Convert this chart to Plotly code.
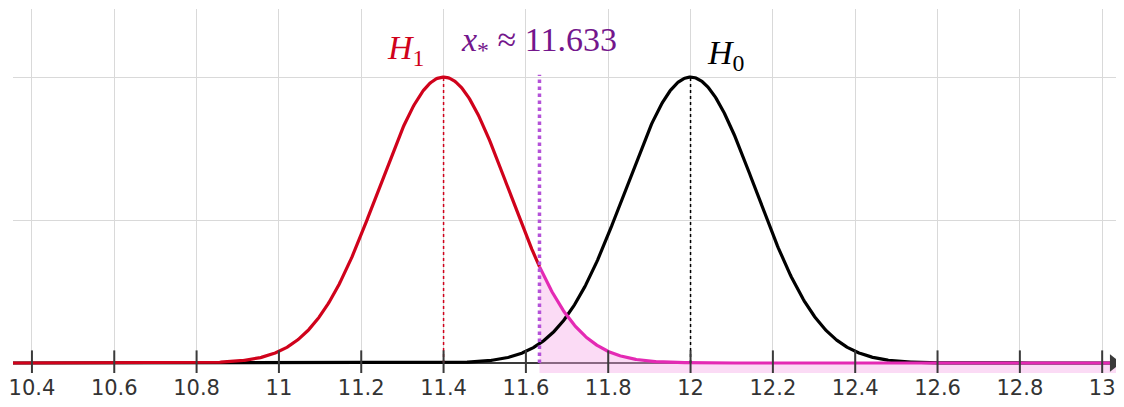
import numpy as np
import plotly.graph_objects as go

# two hypotheses: normal curves with a common spread
MU_H1 = 11.4
MU_H0 = 12.0
SIGMA = 0.158
X_STAR = 11.633

X_MIN, X_MAX = 10.354, 13.053
TICK_VALS = [10.4, 10.6, 10.8, 11, 11.2, 11.4, 11.6, 11.8, 12, 12.2, 12.4, 12.6, 12.8, 13]
TICK_TEXT = ["10.4", "10.6", "10.8", "11", "11.2", "11.4", "11.6", "11.8",
             "12", "12.2", "12.4", "12.6", "12.8", "13"]

RED = "#d0021b"
MAGENTA = "#e42ab4"
PURPLE_LINE = "#b452d8"
PURPLE_TEXT = "#74168c"
AXIS = "#3a3a3a"


def pdf(x, mu, s):
    return np.exp(-0.5 * ((x - mu) / s) ** 2) / (s * np.sqrt(2 * np.pi))


x = np.linspace(X_MIN, X_MAX, 1200)
peak = pdf(MU_H1, MU_H1, SIGMA)
y_lo, y_hi = -0.035 * peak, 1.238 * peak

h1 = pdf(x, MU_H1, SIGMA)
h0 = pdf(x, MU_H0, SIGMA)
left = x <= X_STAR
xr = np.concatenate([[X_STAR], x[~left]])
yr = pdf(xr, MU_H1, SIGMA)

fig = go.Figure()

# x axis line at y = 0
fig.add_trace(go.Scatter(x=[X_MIN, X_MAX - 0.01], y=[0, 0], mode="lines",
                         line=dict(color=AXIS, width=2), hoverinfo="skip"))

# shaded tail of H1 beyond x*
fig.add_trace(go.Scatter(
    x=np.concatenate([xr, xr[::-1]]),
    y=np.concatenate([yr, np.full(len(xr), y_lo)]),
    fill="toself", fillcolor="rgba(245,170,230,0.42)",
    line=dict(width=0), hoverinfo="skip"))

fig.add_trace(go.Scatter(x=x, y=h0, mode="lines", line=dict(color="black", width=3.2)))
fig.add_trace(go.Scatter(x=np.append(x[left], X_STAR),
                         y=np.append(h1[left], pdf(X_STAR, MU_H1, SIGMA)),
                         mode="lines", line=dict(color=RED, width=3.2)))
fig.add_trace(go.Scatter(x=xr, y=yr, mode="lines", line=dict(color=MAGENTA, width=3.2)))

# mean markers
fig.add_trace(go.Scatter(x=[MU_H1, MU_H1], y=[0, peak], mode="lines",
                         line=dict(color=RED, width=1.5, dash="dot")))
fig.add_trace(go.Scatter(x=[MU_H0, MU_H0], y=[0, peak], mode="lines",
                         line=dict(color="black", width=1.5, dash="dot")))
# critical value
fig.add_trace(go.Scatter(x=[X_STAR, X_STAR], y=[0, 1.008 * peak], mode="lines",
                         line=dict(color=PURPLE_LINE, width=3.5, dash="dot")))

# tick marks crossing the axis, and the arrow head
fig.add_trace(go.Scatter(x=TICK_VALS, y=[0] * len(TICK_VALS), mode="markers",
                         marker=dict(symbol="line-ns-open", size=18, color=AXIS,
                                     line=dict(color=AXIS, width=2))))
fig.add_trace(go.Scatter(x=[X_MAX - 0.025], y=[0], mode="markers",
                         marker=dict(symbol="triangle-right", size=15, color=AXIS)))

serif = "Liberation Serif, DejaVu Serif, serif"
fig.add_annotation(x=11.307, y=1.094 * peak, text="<i>H</i><sub>1</sub>", showarrow=False,
                   font=dict(family=serif, size=34, color=RED))
fig.add_annotation(x=12.084, y=1.077 * peak, text="<i>H</i><sub>0</sub>", showarrow=False,
                   font=dict(family=serif, size=34, color="black"))
fig.add_annotation(x=11.632, y=1.122 * peak, text="<i>x</i><sub>*</sub> ≈ 11.633",
                   showarrow=False, font=dict(family=serif, size=34, color=PURPLE_TEXT))

# the page adds an 8 px body margin at top/left, so the figure is shrunk by that much
fig.update_layout(
    width=1116, height=399,
    margin=dict(l=5, r=0, t=1, b=34),
    plot_bgcolor="white", paper_bgcolor="white",
    showlegend=False,
    xaxis=dict(range=[X_MIN, X_MAX], tickvals=TICK_VALS, ticktext=TICK_TEXT,
               showgrid=True, gridcolor="#d9d9d9", gridwidth=1, zeroline=False,
               showline=False, ticks="", automargin=False,
               tickfont=dict(family="DejaVu Sans", size=21, color="#333")),
    yaxis=dict(range=[y_lo, y_hi], tickvals=[peak / 2, peak], showticklabels=False,
               showgrid=True, gridcolor="#d9d9d9", gridwidth=1, zeroline=False,
               showline=False, automargin=False),
)

fig.write_html("out.html")
